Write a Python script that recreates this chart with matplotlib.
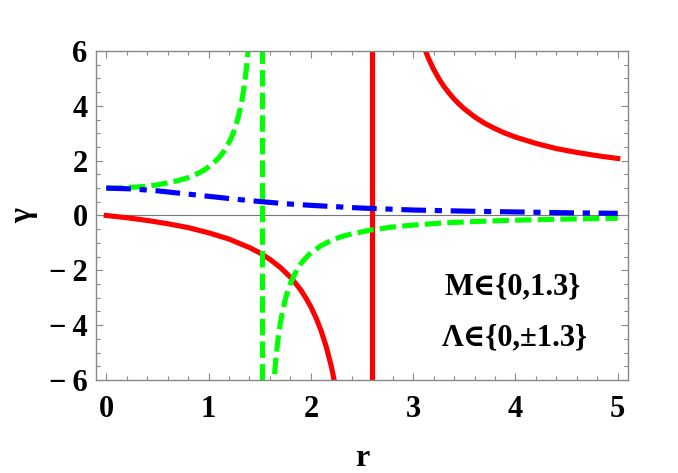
import matplotlib
matplotlib.use("Agg")
import matplotlib.pyplot as plt
from matplotlib.ticker import MultipleLocator, FuncFormatter

plt.rcParams['font.family'] = ['Liberation Serif', 'DejaVu Serif']
plt.rcParams['font.weight'] = 'bold'
plt.rcParams['axes.labelweight'] = 'bold'

# red: M = 1.3, Lambda = 0
red_left_r = [0, 0.2, 0.4, 0.6, 0.8, 1.0, 1.2, 1.4, 1.5, 1.6, 1.7, 1.8, 1.85, 1.9, 1.95, 2.0, 2.05,
              2.1, 2.15, 2.2, 2.24]
red_left_g = [0, -0.08, -0.18, -0.30, -0.44, -0.63, -0.86, -1.17, -1.36, -1.60, -1.89, -2.25, -2.47,
              -2.71, -3.00, -3.33, -3.73, -4.20, -4.78, -5.50, -6.22]
red_right_r = [3.08, 3.1, 3.15, 3.2, 3.25, 3.3, 3.35, 3.4, 3.45, 3.5, 3.6, 3.7, 3.8, 3.9, 4.0, 4.2,
               4.4, 4.6, 4.8, 5.0]
red_right_g = [6.42, 6.20, 5.73, 5.33, 5.00, 4.71, 4.47, 4.25, 4.06, 3.89, 3.60, 3.36, 3.17, 3.00,
               2.86, 2.63, 2.44, 2.30, 2.18, 2.08]
red_pole = 2.6

# green: Lambda = -1.3
green_left_r = [0, 0.1, 0.2, 0.3, 0.4, 0.5, 0.6, 0.7, 0.8, 0.9, 0.95, 1.0, 1.05, 1.1, 1.15,
                1.2, 1.23, 1.25, 1.28, 1.3, 1.32, 1.33, 1.35, 1.37, 1.39]
green_left_g = [1.0, 1.00, 1.02, 1.04, 1.07, 1.12, 1.19, 1.27, 1.38, 1.54, 1.64, 1.77, 1.92, 2.10, 2.34,
                2.66, 2.90, 3.10, 3.45, 3.74, 4.08, 4.28, 4.76, 5.36, 6.15]
green_right_r = [1.63, 1.64, 1.65, 1.66, 1.68, 1.7, 1.72, 1.75, 1.78, 1.8, 1.85, 1.9, 1.95, 2.0, 2.1,
                 2.2, 2.3, 2.4, 2.6, 2.8, 3.0, 3.3, 3.6, 4.0, 4.5, 5.0]
green_right_g = [-6.61, -6.04, -5.57, -5.15, -4.49, -3.96, -3.56, -3.06, -2.69, -2.48, -2.08, -1.77,
                 -1.55, -1.36, -1.10, -0.91, -0.77, -0.67, -0.52, -0.42, -0.35, -0.27, -0.22, -0.17,
                 -0.13, -0.10]
green_pole = 1.52

# blue: Lambda = +1.3
blue_r = [0, 0.25, 0.5, 0.75, 1.0, 1.25, 1.5, 1.75, 2.0, 2.5, 3.0, 3.5, 4.0, 4.5, 5.0]
blue_g = [1.0, 0.97, 0.90, 0.80, 0.70, 0.60, 0.51, 0.43, 0.37, 0.27, 0.20, 0.16, 0.13, 0.10, 0.08]

red = '#ff0000'
green = '#00ff00'
blue = '#0000ff'
lw = 3.7

fig = plt.figure(figsize=(6.78, 4.73), dpi=100)
ax = fig.add_axes([96/678, 1 - 380/473, 532/678, 329/473])

ax.axhline(0, color='#777777', lw=0.8, zorder=1)

ax.plot(red_left_r, red_left_g, color=red, lw=lw)
ax.plot(red_right_r, red_right_g, color=red, lw=lw)
ax.axvline(red_pole, color=red, lw=lw)

gdash = (0, (3.2, 1.2))
ax.plot(green_left_r, green_left_g, color=green, lw=lw, ls=gdash)
ax.plot(green_right_r, green_right_g, color=green, lw=lw, ls=gdash)
ax.axvline(green_pole, color=green, lw=lw, ls=gdash)

ax.plot(blue_r, blue_g, color=blue, lw=lw, ls=(0, (4.8, 1.7, 1.4, 1.7)))

ax.set_xlim(-0.1, 5.1)
ax.set_ylim(-6, 6)
ax.xaxis.set_major_locator(MultipleLocator(1))
ax.xaxis.set_minor_locator(MultipleLocator(0.2))
ax.yaxis.set_major_locator(MultipleLocator(2))
ax.yaxis.set_minor_locator(MultipleLocator(0.5))
ax.yaxis.set_major_formatter(FuncFormatter(
    lambda v, p: ('\u2212\u2009%d' % -v) if v < 0 else '%d' % v))

for s in ax.spines.values():
    s.set_color('#888888')
    s.set_linewidth(1.0)
ax.tick_params(which='both', direction='in', top=True, right=True, color='#888888', width=0.8)
ax.tick_params(which='major', length=5)
ax.tick_params(which='minor', length=3)
ax.tick_params(axis='x', pad=11, labelsize=22)
ax.tick_params(axis='y', pad=6, labelsize=22)

ax.set_xlabel('r', fontsize=23, labelpad=14)
ax.set_ylabel('γ', fontsize=23, labelpad=8)

ax.text(3.97, -2.6, 'M∈{0,1.3}', fontsize=22, ha='center', va='center')
ax.text(3.99, -4.47, 'Λ∈{0,±1.3}', fontsize=22, ha='center', va='center')

fig.savefig('out.png', dpi=100)
